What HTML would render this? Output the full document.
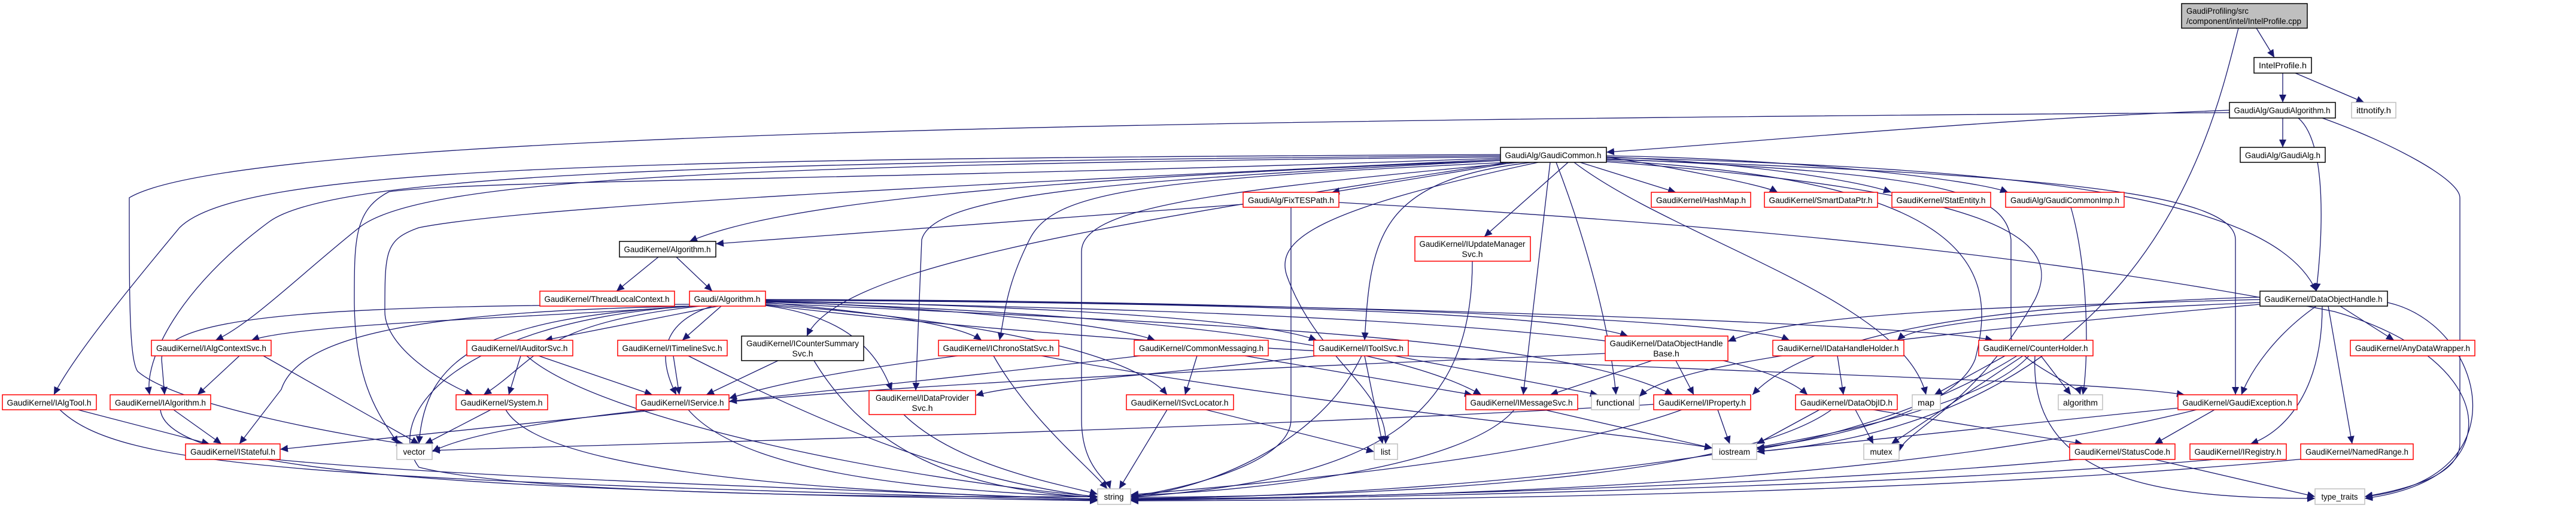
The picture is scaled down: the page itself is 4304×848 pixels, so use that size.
<!DOCTYPE html>
<html><head><meta charset="utf-8"><style>
html,body{margin:0;padding:0;background:#fff;}
svg{display:block}
text{font-family:"Liberation Sans",Arial,sans-serif;font-size:14px;fill:#000}
.e{fill:none;stroke:#191970;stroke-width:1.3;marker-end:url(#a)}
.r{fill:#fff;stroke:#ff0000;stroke-width:1.5}
.b{fill:#fff;stroke:#000;stroke-width:1.5}
.g{fill:#fff;stroke:#bfbfbf;stroke-width:1.5}
</style></head><body>
<svg width="4304" height="848" viewBox="0 0 4304 848" xmlns="http://www.w3.org/2000/svg">
<defs><marker id="a" markerUnits="userSpaceOnUse" markerWidth="14" markerHeight="12" refX="13" refY="6" orient="auto"><path d="M0,0 L13,6 L0,12 z" fill="#191970"/></marker></defs>
<g>
<path class="e" d="M3770 47 L3800 96"/>
<path class="e" d="M3740 47 C3700 200, 3600 700, 2935 754"/>
<path class="e" d="M3814 122 L3814 171"/>
<path class="e" d="M3835 122 L3950 171"/>
<path class="e" d="M3725 184 C3300 200, 2900 240, 2684 254"/>
<path class="e" d="M3814 197 L3814 246"/>
<path class="e" d="M3840 197 C3890 240, 3880 400, 3870 486"/>
<path class="e" d="M3880 197 C4000 240, 4110 300, 4110 330 L4110 740 C4110 800, 4000 820, 3951 829"/>
<path class="e" d="M3725 188 C2000 200, 400 220, 216 330 C216 500, 216 600, 230 620 C300 680, 600 730, 675 741"/>
<path class="e" d="M2077 341 C1700 370, 1400 390, 1196 407"/>
<path class="e" d="M2507 268 C1700 300, 1300 340, 1152 403"/>
<path class="e" d="M2507 258 C1000 265, 400 280, 300 380 C200 500, 120 600, 90 659"/>
<path class="e" d="M2507 260 C1200 270, 560 290, 450 370 C300 480, 240 600, 250 659"/>
<path class="e" d="M2507 262 C1200 275, 700 300, 600 380 C500 460, 420 540, 360 568"/>
<path class="e" d="M2507 264 C1500 300, 800 300, 650 320 C592 350, 592 400, 592 500 C592 650, 640 700, 665 741"/>
<path class="e" d="M2507 266 C1800 300, 900 340, 700 380 C643 400, 643 420, 643 520 C643 580, 740 640, 790 659"/>
<path class="e" d="M2530 271 L2225 321"/>
<path class="e" d="M2640 271 L2800 321"/>
<path class="e" d="M2684 262 C2800 280, 2950 310, 2970 321"/>
<path class="e" d="M2684 262 C2900 270, 3100 300, 3160 321"/>
<path class="e" d="M2684 260 C3000 265, 3300 300, 3355 321"/>
<path class="e" d="M2620 271 L2480 395"/>
<path class="e" d="M2520 271 C1900 300, 1760 320, 1720 400 C1680 480, 1680 520, 1670 568"/>
<path class="e" d="M2507 268 C1900 300, 1560 320, 1540 400 L1530 652"/>
<path class="e" d="M2560 271 C2300 300, 2290 400, 2280 568"/>
<path class="e" d="M2520 271 C1800 380, 1400 450, 1348 561"/>
<path class="e" d="M2590 271 L2545 659"/>
<path class="e" d="M2600 271 C2650 400, 2690 550, 2700 659"/>
<path class="e" d="M2570 271 C2200 350, 2130 400, 2150 460 C2200 600, 2320 650, 2315 741"/>
<path class="e" d="M2540 271 C2000 320, 1807 350, 1807 420 L1807 700 C1807 780, 1850 800, 1855 816"/>
<path class="e" d="M2630 271 C2800 400, 3180 500, 3218 659"/>
<path class="e" d="M2684 265 C3250 290, 3350 320, 3360 400 L3360 560 C3360 600, 3470 640, 3476 659"/>
<path class="e" d="M2684 266 C3400 290, 3735 320, 3735 400 L3735 659"/>
<path class="e" d="M2684 263 C3400 280, 3800 330, 3870 486"/>
<path class="e" d="M2684 268 C3300 300, 3340 450, 3300 600 C3260 700, 3000 740, 2935 748"/>
<path class="e" d="M2684 270 C3350 320, 3450 400, 3400 500 C3300 680, 3180 720, 3173 754"/>
<path class="e" d="M3870 511 C3800 560, 3760 620, 3745 659"/>
<path class="e" d="M3880 511 C3880 650, 3820 720, 3760 741"/>
<path class="e" d="M3890 511 L3930 741"/>
<path class="e" d="M3910 511 L4000 568"/>
<path class="e" d="M3989 505 C4150 540, 4220 800, 3951 829"/>
<path class="e" d="M3776 500 C3400 510, 3000 520, 2887 570"/>
<path class="e" d="M3776 505 C3400 520, 3200 540, 3170 568"/>
<path class="e" d="M3776 496 C3300 510, 3020 560, 2928 659"/>
<path class="e" d="M3776 508 C3200 560, 2800 600, 2739 662"/>
<path class="e" d="M3460 346 C3490 450, 3490 600, 3480 659"/>
<path class="e" d="M2157 346 L2157 700 C2157 780, 1950 820, 1889 829"/>
<path class="e" d="M2237 338 C3000 380, 3500 440, 3900 520 C4180 600, 4200 800, 3951 832"/>
<path class="e" d="M2460 436 C2460 700, 2300 800, 1889 830"/>
<path class="e" d="M1100 429 L1030 486"/>
<path class="e" d="M1130 429 L1190 486"/>
<path class="e" d="M1160 511 C900 530, 500 540, 420 568"/>
<path class="e" d="M1200 511 L910 568"/>
<path class="e" d="M1205 511 L1140 568"/>
<path class="e" d="M1279 505 C1450 520, 1600 540, 1640 568"/>
<path class="e" d="M1279 503 C1600 515, 1850 540, 1930 568"/>
<path class="e" d="M1279 502 C1700 510, 2100 530, 2200 568"/>
<path class="e" d="M1279 500 C2000 500, 2900 530, 2990 568"/>
<path class="e" d="M1279 500 C2200 505, 3200 540, 3330 568"/>
<path class="e" d="M1279 501 C2000 505, 2600 520, 2720 561"/>
<path class="e" d="M1279 504 C1800 520, 2300 560, 2475 659"/>
<path class="e" d="M1279 506 C2000 540, 2600 560, 2795 659"/>
<path class="e" d="M1279 503 C2200 520, 2900 550, 3020 659"/>
<path class="e" d="M1279 508 C1700 540, 1900 600, 1950 659"/>
<path class="e" d="M1279 510 C1430 530, 1470 600, 1490 652"/>
<path class="e" d="M1152 508 C600 510, 270 520, 270 600 L275 659"/>
<path class="e" d="M1152 511 C700 520, 500 560, 470 650 L400 741"/>
<path class="e" d="M1160 511 C800 530, 710 600, 700 741"/>
<path class="e" d="M1170 511 C900 540, 900 600, 808 659"/>
<path class="e" d="M1190 511 C1100 540, 1100 600, 1130 659"/>
<path class="e" d="M1152 511 C750 540, 640 700, 700 780 C900 830, 1600 830, 1834 829"/>
<path class="e" d="M1279 509 C2200 620, 3400 620, 3650 659"/>
<path class="e" d="M400 594 L330 659"/>
<path class="e" d="M440 594 L700 741"/>
<path class="e" d="M870 594 L850 659"/>
<path class="e" d="M900 594 L1090 659"/>
<path class="e" d="M880 594 C1000 700, 1500 800, 1834 829"/>
<path class="e" d="M1125 594 L1135 659"/>
<path class="e" d="M1150 594 C1400 720, 1600 800, 1834 830"/>
<path class="e" d="M1300 602 L1180 659"/>
<path class="e" d="M1360 602 C1450 750, 1600 820, 1834 830"/>
<path class="e" d="M1600 594 C1400 620, 1300 640, 1218 665"/>
<path class="e" d="M1660 594 C1720 700, 1820 780, 1850 816"/>
<path class="e" d="M1740 594 C2200 680, 2700 720, 2861 748"/>
<path class="e" d="M2000 594 L1980 659"/>
<path class="e" d="M2080 594 L2460 659"/>
<path class="e" d="M1905 594 C1600 630, 1400 650, 1218 670"/>
<path class="e" d="M2280 594 L2310 741"/>
<path class="e" d="M2275 594 C2200 750, 2000 820, 1889 829"/>
<path class="e" d="M2330 594 L2670 659"/>
<path class="e" d="M2200 594 C1900 630, 1700 640, 1630 660"/>
<path class="e" d="M2760 602 L2590 659"/>
<path class="e" d="M2800 602 L2830 659"/>
<path class="e" d="M2682 590 C2000 620, 900 660, 722 754"/>
<path class="e" d="M3070 594 L3080 659"/>
<path class="e" d="M3350 594 L3232 659"/>
<path class="e" d="M3410 594 L3460 659"/>
<path class="e" d="M3380 594 L3160 741"/>
<path class="e" d="M3370 594 C3200 700, 3000 740, 2935 750"/>
<path class="e" d="M3390 594 C3250 750, 2400 830, 1889 832"/>
<path class="e" d="M3400 594 C3390 800, 3600 832, 3868 832"/>
<path class="e" d="M130 684 L350 741"/>
<path class="e" d="M100 684 C200 780, 500 800, 1834 835"/>
<path class="e" d="M290 684 L370 741"/>
<path class="e" d="M268 684 C280 800, 900 820, 1834 836"/>
<path class="e" d="M820 684 L710 741"/>
<path class="e" d="M845 684 C900 780, 1300 820, 1834 833"/>
<path class="e" d="M1100 684 L468 750"/>
<path class="e" d="M1150 684 C1250 800, 1600 820, 1834 830"/>
<path class="e" d="M1510 692 C1600 780, 1780 810, 1834 825"/>
<path class="e" d="M2015 684 L2296 754"/>
<path class="e" d="M1950 684 L1870 816"/>
<path class="e" d="M2580 684 L2861 748"/>
<path class="e" d="M2530 684 C2450 780, 2100 820, 1889 827"/>
<path class="e" d="M2870 684 L2890 741"/>
<path class="e" d="M2810 684 C2600 760, 2200 800, 1889 826"/>
<path class="e" d="M2763 675 C2000 720, 900 745, 722 752"/>
<path class="e" d="M3040 684 L2935 741"/>
<path class="e" d="M3100 684 L3130 741"/>
<path class="e" d="M3130 684 L3480 741"/>
<path class="e" d="M3060 684 C2900 800, 2300 830, 1889 830"/>
<path class="e" d="M3700 684 L3600 741"/>
<path class="e" d="M3670 684 C3200 800, 2500 830, 1889 833"/>
<path class="e" d="M3650 680 L2935 754"/>
<path class="e" d="M460 767 C800 800, 1500 820, 1834 834"/>
<path class="e" d="M3600 767 L3868 829"/>
<path class="e" d="M3470 767 C3000 810, 2300 830, 1889 834"/>
<path class="e" d="M3700 767 C3200 810, 2400 830, 1889 835"/>
<path class="e" d="M3860 765 C3300 820, 2500 835, 1889 836"/>
</g>
<g>
<rect x="3645" y="6" width="210" height="41" fill="#bfbfbf" stroke="#000" stroke-width="1.5"/>
<text x="3653" y="23" textLength="104" lengthAdjust="spacingAndGlyphs">GaudiProfiling/src</text>
<text x="3653" y="40" textLength="192" lengthAdjust="spacingAndGlyphs">/component/intel/IntelProfile.cpp</text>

<rect class="b" x="3766" y="96" width="96" height="26"/><text x="3814" y="114" text-anchor="middle" textLength="80" lengthAdjust="spacingAndGlyphs">IntelProfile.h</text>
<rect class="b" x="3725" y="171" width="177" height="26"/><text x="3813" y="189" text-anchor="middle" textLength="161" lengthAdjust="spacingAndGlyphs">GaudiAlg/GaudiAlgorithm.h</text>
<rect class="g" x="3929" y="171" width="74" height="26"/><text x="3966" y="189" text-anchor="middle" textLength="58" lengthAdjust="spacingAndGlyphs">ittnotify.h</text>
<rect class="b" x="2507" y="246" width="177" height="25"/><text x="2595" y="264" text-anchor="middle" textLength="161" lengthAdjust="spacingAndGlyphs">GaudiAlg/GaudiCommon.h</text>
<rect class="b" x="3743" y="246" width="142" height="25"/><text x="3814" y="264" text-anchor="middle" textLength="126" lengthAdjust="spacingAndGlyphs">GaudiAlg/GaudiAlg.h</text>
<rect class="r" x="2077" y="321" width="160" height="25"/><text x="2157" y="339" text-anchor="middle" textLength="144" lengthAdjust="spacingAndGlyphs">GaudiAlg/FixTESPath.h</text>
<rect class="r" x="2759" y="321" width="166" height="25"/><text x="2842" y="339" text-anchor="middle" textLength="150" lengthAdjust="spacingAndGlyphs">GaudiKernel/HashMap.h</text>
<rect class="r" x="2948" y="321" width="189" height="25"/><text x="3042" y="339" text-anchor="middle" textLength="173" lengthAdjust="spacingAndGlyphs">GaudiKernel/SmartDataPtr.h</text>
<rect class="r" x="3161" y="321" width="165" height="25"/><text x="3243" y="339" text-anchor="middle" textLength="149" lengthAdjust="spacingAndGlyphs">GaudiKernel/StatEntity.h</text>
<rect class="r" x="3351" y="321" width="198" height="25"/><text x="3450" y="339" text-anchor="middle" textLength="182" lengthAdjust="spacingAndGlyphs">GaudiAlg/GaudiCommonImp.h</text>
<rect class="r" x="2364" y="395" width="193" height="41"/><text x="2460" y="412" text-anchor="middle" textLength="177" lengthAdjust="spacingAndGlyphs">GaudiKernel/IUpdateManager</text><text x="2460" y="429" text-anchor="middle">Svc.h</text>
<rect class="b" x="1035" y="403" width="161" height="26"/><text x="1115" y="421" text-anchor="middle" textLength="145" lengthAdjust="spacingAndGlyphs">GaudiKernel/Algorithm.h</text>
<rect class="r" x="902" y="486" width="225" height="25"/><text x="1014" y="504" text-anchor="middle" textLength="209" lengthAdjust="spacingAndGlyphs">GaudiKernel/ThreadLocalContext.h</text>
<rect class="r" x="1152" y="486" width="127" height="25"/><text x="1215" y="504" text-anchor="middle" textLength="111" lengthAdjust="spacingAndGlyphs">Gaudi/Algorithm.h</text>
<rect class="b" x="3776" y="486" width="213" height="25"/><text x="3882" y="504" text-anchor="middle" textLength="197" lengthAdjust="spacingAndGlyphs">GaudiKernel/DataObjectHandle.h</text>

<rect class="r" x="253" y="568" width="200" height="26"/><text x="353" y="586" text-anchor="middle" textLength="184" lengthAdjust="spacingAndGlyphs">GaudiKernel/IAlgContextSvc.h</text>
<rect class="r" x="780" y="568" width="177" height="26"/><text x="868" y="586" text-anchor="middle" textLength="161" lengthAdjust="spacingAndGlyphs">GaudiKernel/IAuditorSvc.h</text>
<rect class="r" x="1032" y="568" width="183" height="26"/><text x="1123" y="586" text-anchor="middle" textLength="167" lengthAdjust="spacingAndGlyphs">GaudiKernel/ITimelineSvc.h</text>
<rect class="b" x="1239" y="561" width="204" height="41"/><text x="1341" y="578" text-anchor="middle" textLength="188" lengthAdjust="spacingAndGlyphs">GaudiKernel/ICounterSummary</text><text x="1341" y="595" text-anchor="middle">Svc.h</text>
<rect class="r" x="1568" y="568" width="201" height="26"/><text x="1668" y="586" text-anchor="middle" textLength="185" lengthAdjust="spacingAndGlyphs">GaudiKernel/IChronoStatSvc.h</text>
<rect class="r" x="1895" y="568" width="224" height="26"/><text x="2007" y="586" text-anchor="middle" textLength="208" lengthAdjust="spacingAndGlyphs">GaudiKernel/CommonMessaging.h</text>
<rect class="r" x="2195" y="568" width="158" height="26"/><text x="2274" y="586" text-anchor="middle" textLength="142" lengthAdjust="spacingAndGlyphs">GaudiKernel/IToolSvc.h</text>
<rect class="r" x="2682" y="561" width="205" height="41"/><text x="2784" y="578" text-anchor="middle" textLength="189" lengthAdjust="spacingAndGlyphs">GaudiKernel/DataObjectHandle</text><text x="2784" y="595" text-anchor="middle">Base.h</text>
<rect class="r" x="2962" y="568" width="219" height="26"/><text x="3071" y="586" text-anchor="middle" textLength="203" lengthAdjust="spacingAndGlyphs">GaudiKernel/IDataHandleHolder.h</text>
<rect class="r" x="3306" y="568" width="191" height="26"/><text x="3401" y="586" text-anchor="middle" textLength="175" lengthAdjust="spacingAndGlyphs">GaudiKernel/CounterHolder.h</text>
<rect class="r" x="3927" y="568" width="208" height="26"/><text x="4031" y="586" text-anchor="middle" textLength="192" lengthAdjust="spacingAndGlyphs">GaudiKernel/AnyDataWrapper.h</text>

<rect class="r" x="4" y="659" width="157" height="25"/><text x="82" y="677" text-anchor="middle" textLength="141" lengthAdjust="spacingAndGlyphs">GaudiKernel/IAlgTool.h</text>
<rect class="r" x="184" y="659" width="168" height="25"/><text x="268" y="677" text-anchor="middle" textLength="152" lengthAdjust="spacingAndGlyphs">GaudiKernel/IAlgorithm.h</text>
<rect class="r" x="762" y="659" width="153" height="25"/><text x="838" y="677" text-anchor="middle" textLength="137" lengthAdjust="spacingAndGlyphs">GaudiKernel/System.h</text>
<rect class="r" x="1063" y="659" width="155" height="25"/><text x="1140" y="677" text-anchor="middle" textLength="139" lengthAdjust="spacingAndGlyphs">GaudiKernel/IService.h</text>
<rect class="r" x="1452" y="652" width="178" height="40"/><text x="1541" y="669" text-anchor="middle" textLength="156" lengthAdjust="spacingAndGlyphs">GaudiKernel/IDataProvider</text><text x="1541" y="686" text-anchor="middle">Svc.h</text>
<rect class="r" x="1882" y="659" width="179" height="25"/><text x="1971" y="677" text-anchor="middle" textLength="163" lengthAdjust="spacingAndGlyphs">GaudiKernel/ISvcLocator.h</text>
<rect class="r" x="2449" y="659" width="187" height="25"/><text x="2542" y="677" text-anchor="middle" textLength="171" lengthAdjust="spacingAndGlyphs">GaudiKernel/IMessageSvc.h</text>
<rect class="g" x="2659" y="659" width="80" height="25"/><text x="2699" y="677" text-anchor="middle" textLength="64" lengthAdjust="spacingAndGlyphs">functional</text>
<rect class="r" x="2763" y="659" width="162" height="25"/><text x="2844" y="677" text-anchor="middle" textLength="146" lengthAdjust="spacingAndGlyphs">GaudiKernel/IProperty.h</text>
<rect class="r" x="3000" y="659" width="170" height="25"/><text x="3085" y="677" text-anchor="middle" textLength="154" lengthAdjust="spacingAndGlyphs">GaudiKernel/DataObjID.h</text>
<rect class="g" x="3195" y="659" width="47" height="25"/><text x="3218" y="677" text-anchor="middle" textLength="28" lengthAdjust="spacingAndGlyphs">map</text>
<rect class="g" x="3439" y="659" width="74" height="25"/><text x="3476" y="677" text-anchor="middle" textLength="58" lengthAdjust="spacingAndGlyphs">algorithm</text>
<rect class="r" x="3639" y="659" width="199" height="25"/><text x="3738" y="677" text-anchor="middle" textLength="183" lengthAdjust="spacingAndGlyphs">GaudiKernel/GaudiException.h</text>

<rect class="r" x="310" y="741" width="158" height="26"/><text x="389" y="759" text-anchor="middle" textLength="142" lengthAdjust="spacingAndGlyphs">GaudiKernel/IStateful.h</text>
<rect class="g" x="663" y="741" width="59" height="26"/><text x="692" y="759" text-anchor="middle" textLength="37" lengthAdjust="spacingAndGlyphs">vector</text>
<rect class="g" x="2296" y="741" width="39" height="26"/><text x="2315" y="759" text-anchor="middle" textLength="16" lengthAdjust="spacingAndGlyphs">list</text>
<rect class="g" x="2861" y="741" width="74" height="26"/><text x="2898" y="759" text-anchor="middle" textLength="52" lengthAdjust="spacingAndGlyphs">iostream</text>
<rect class="g" x="3114" y="741" width="59" height="26"/><text x="3143" y="759" text-anchor="middle" textLength="37" lengthAdjust="spacingAndGlyphs">mutex</text>
<rect class="r" x="3458" y="741" width="176" height="26"/><text x="3546" y="759" text-anchor="middle" textLength="160" lengthAdjust="spacingAndGlyphs">GaudiKernel/StatusCode.h</text>
<rect class="r" x="3659" y="741" width="161" height="26"/><text x="3739" y="759" text-anchor="middle" textLength="145" lengthAdjust="spacingAndGlyphs">GaudiKernel/IRegistry.h</text>
<rect class="r" x="3844" y="741" width="188" height="26"/><text x="3938" y="759" text-anchor="middle" textLength="172" lengthAdjust="spacingAndGlyphs">GaudiKernel/NamedRange.h</text>

<rect class="g" x="1834" y="816" width="55" height="26"/><text x="1861" y="834" text-anchor="middle" textLength="33" lengthAdjust="spacingAndGlyphs">string</text>
<rect class="g" x="3868" y="816" width="83" height="26"/><text x="3909" y="834" text-anchor="middle" textLength="61" lengthAdjust="spacingAndGlyphs">type_traits</text>
</g>
</svg>
</body></html>
